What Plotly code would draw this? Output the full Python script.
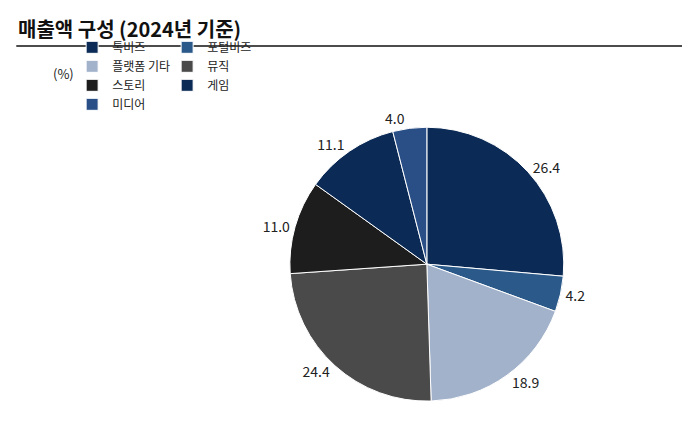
import plotly.graph_objects as go

labels = ["톡비즈", "포털비즈", "플랫폼 기타", "뮤직", "스토리", "게임", "미디어"]
values = [26.4, 4.2, 18.9, 24.4, 11.0, 11.1, 4.0]
colors = ["#0b2a55", "#2b5a8a", "#a2b2cb", "#4a4a4a", "#1d1d1d", "#0b2a55", "#2a4f86"]

fig = go.Figure(go.Pie(
    labels=labels, values=values, sort=False, direction="clockwise", rotation=0,
    marker=dict(colors=colors, line=dict(color="white", width=1)),
    textinfo="text", text=[f"{v:.1f}" for v in values], textposition="outside",
    textfont=dict(size=14, color="#222"), outsidetextfont=dict(size=14, color="#222"),
    domain=dict(x=[0.408, 0.806], y=[0.09, 0.724]), hole=0,
))
fig.update_layout(
    width=690, height=432, margin=dict(l=0, r=0, t=0, b=0),
    paper_bgcolor="white", font=dict(family="Noto Sans CJK KR", color="#222"),
    showlegend=True,
    legend=dict(orientation="h", x=0.265, y=0.843, xanchor="left", yanchor="middle",
                font=dict(size=12), bgcolor="rgba(0,0,0,0)", tracegroupgap=0,
                itemwidth=30, entrywidthmode="pixels", entrywidth=50),
    annotations=[
        dict(text="<b>매출액 구성 (2024년 기준)</b>", x=0.012, y=0.953, xref="paper", yref="paper",
             xanchor="left", yanchor="middle", showarrow=False, font=dict(size=20, color="#111")),
        dict(text="(%)", x=0.062, y=0.848, xref="paper", yref="paper",
             xanchor="left", yanchor="middle", showarrow=False, font=dict(size=13)),
    ],
    shapes=[
        dict(type="line", xref="paper", yref="paper", x0=0.012, x1=1, y0=0.912, y1=0.912,
             line=dict(color="#111", width=1.5)),
        dict(type="line", xref="paper", yref="paper", x0=0.012, x1=1, y0=0.01, y1=0.01,
             line=dict(color="#111", width=1.2)),
    ],
)
fig.write_html("out.html")
